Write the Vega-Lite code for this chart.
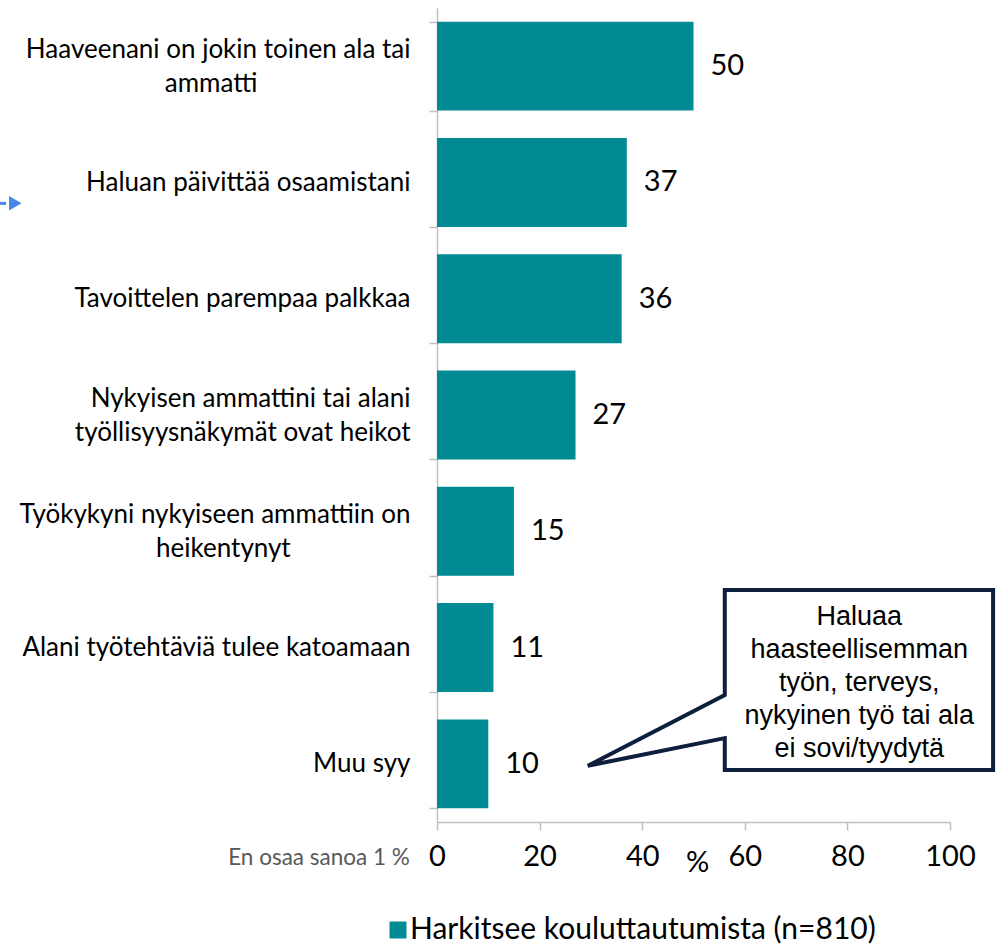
{
  "$schema": "https://vega.github.io/schema/vega-lite/v6.json",
  "width": 513,
  "height": 814,
  "autosize": "none",
  "padding": {"left": 437, "top": 8, "right": 50, "bottom": 122},
  "background": "white",
  "config": {"view": {"stroke": null}, "font": "Lato"},
  "layer": [
    {
      "data": {"values": [
        {"reason": "Haaveenani on jokin toinen ala tai|ammatti", "pct": 50, "series": "Harkitsee kouluttautumista (n=810)"},
        {"reason": "Haluan päivittää osaamistani", "pct": 37, "series": "Harkitsee kouluttautumista (n=810)"},
        {"reason": "Tavoittelen parempaa palkkaa", "pct": 36, "series": "Harkitsee kouluttautumista (n=810)"},
        {"reason": "Nykyisen ammattini tai alani|työllisyysnäkymät ovat heikot", "pct": 27, "series": "Harkitsee kouluttautumista (n=810)"},
        {"reason": "Työkykyni nykyiseen ammattiin on|heikentynyt", "pct": 15, "series": "Harkitsee kouluttautumista (n=810)"},
        {"reason": "Alani työtehtäviä tulee katoamaan", "pct": 11, "series": "Harkitsee kouluttautumista (n=810)"},
        {"reason": "Muu syy", "pct": 10, "series": "Harkitsee kouluttautumista (n=810)"}
      ]},
      "mark": {"type": "bar"},
      "encoding": {
        "y": {
          "field": "reason", "type": "nominal", "sort": null,
          "scale": {"paddingInner": 0.235, "paddingOuter": 0.1175},
          "axis": {
            "title": null,
            "labelExpr": "isString(datum.value) ? (length(split(datum.value, '|')) > 1 && length(split(datum.value, '|')[1]) < length(split(datum.value, '|')[0]) - 5 ? [split(datum.value, '|')[0], pad(split(datum.value, '|')[1], length(split(datum.value, '|')[1]) + round((length(split(datum.value, '|')[0]) - length(split(datum.value, '|')[1])) * 0.85), '\u00a0') + '\u200b'] : split(datum.value, '|')) : ''",
            "labelFont": "Lato", "labelFontSize": 26, "labelColor": "#000000",
            "labelLineHeight": 34, "labelLimit": 0,
            "labelBaseline": "middle", "labelPadding": 19,
            "labelOffset": {"condition": {"test": "isString(datum.value) && indexof(datum.value, '|') >= 0", "value": -17}, "value": 0},
            "tickSize": 8, "tickBand": "extent",
            "domainColor": "#bfbfbf", "tickColor": "#bfbfbf", "domainWidth": 1.5, "tickWidth": 1.5
          }
        },
        "x": {
          "field": "pct", "type": "quantitative",
          "scale": {"domain": [0, 100], "nice": false},
          "axis": {
            "values": [0, 20, 40, 60, 80, 100],
            "title": "%", "titleFont": "Lato", "titleFontSize": 29, "titleFontWeight": "normal",
            "titleColor": "#000000", "titleX": 260, "titleY": 49, "titleBaseline": "alphabetic", "titleAlign": "center",
            "labelFont": "Lato", "labelFontSize": 29, "labelColor": "#000000", "labelPadding": 12, "labelFlush": false,
            "tickSize": 8, "grid": false,
            "domainColor": "#bfbfbf", "tickColor": "#bfbfbf", "domainWidth": 1.5, "tickWidth": 1.5
          }
        },
        "color": {
          "field": "series", "type": "nominal",
          "scale": {"range": ["#008B94"]},
          "legend": {
            "title": null, "orient": "none", "legendX": -54, "legendY": 907,
            "symbolType": "square", "symbolSize": 289, "symbolStrokeWidth": 0,
            "labelFont": "Lato", "labelFontSize": 30, "labelColor": "#000000", "labelOffset": -3,
            "labelLimit": 0, "padding": 0
          }
        }
      }
    },
    {
      "data": {"values": [
        {"reason2": "Haaveenani on jokin toinen ala tai|ammatti", "pct2": 50},
        {"reason2": "Haluan päivittää osaamistani", "pct2": 37},
        {"reason2": "Tavoittelen parempaa palkkaa", "pct2": 36},
        {"reason2": "Nykyisen ammattini tai alani|työllisyysnäkymät ovat heikot", "pct2": 27},
        {"reason2": "Työkykyni nykyiseen ammattiin on|heikentynyt", "pct2": 15},
        {"reason2": "Alani työtehtäviä tulee katoamaan", "pct2": 11},
        {"reason2": "Muu syy", "pct2": 10}
      ]},
      "mark": {"type": "text", "align": "left", "baseline": "middle", "dx": 17, "font": "Lato", "fontSize": 29, "color": "#000000"},
      "encoding": {
        "y": {"field": "reason2", "type": "nominal", "sort": null, "scale": {"paddingInner": 0.235, "paddingOuter": 0.1175}, "axis": null},
        "x": {"field": "pct2", "type": "quantitative", "scale": {"domain": [0, 100], "nice": false}},
        "text": {"field": "pct2", "type": "quantitative"}
      }
    },
    {
      "data": {"values": [
        {"px": 56.1, "py": 28.5, "o": 1},
        {"px": 108.4, "py": 28.5, "o": 2},
        {"px": 108.4, "py": 6.4, "o": 3},
        {"px": 56.1, "py": 6.4, "o": 4},
        {"px": 56.1, "py": 10.3, "o": 5},
        {"px": 29.4, "py": 6.9, "o": 6},
        {"px": 56.1, "py": 15.6, "o": 7}
      ]},
      "mark": {"type": "line", "interpolate": "linear-closed", "stroke": "#0E1F3D", "strokeWidth": 4, "strokeJoin": "miter"},
      "encoding": {
        "x": {"field": "px", "type": "quantitative", "scale": {"domain": [0, 100], "nice": false}},
        "y": {"field": "py", "type": "quantitative", "scale": {"domain": [0, 100], "nice": false, "zero": false}, "axis": null},
        "order": {"field": "o", "type": "quantitative"}
      }
    },
    {
      "data": {"values": [
        {"px": 82.3, "py": 25.2, "label": "Haluaa\nhaasteellisemman\ntyön, terveys,\nnykyinen työ tai ala\nei sovi/tyydytä"}
      ]},
      "mark": {"type": "text", "align": "center", "baseline": "middle", "font": "Liberation Sans", "fontSize": 27, "lineHeight": 33, "lineBreak": "\n", "color": "#000000"},
      "encoding": {
        "x": {"field": "px", "type": "quantitative", "scale": {"domain": [0, 100], "nice": false}},
        "y": {"field": "py", "type": "quantitative", "scale": {"domain": [0, 100], "nice": false, "zero": false}, "axis": null},
        "text": {"field": "label", "type": "nominal"}
      }
    },
    {
      "data": {"values": [
        {"px": -5.3, "py": -4.4, "label": "En osaa sanoa 1 %"}
      ]},
      "mark": {"type": "text", "align": "right", "baseline": "middle", "font": "Lato", "fontSize": 22.5, "color": "#595959"},
      "encoding": {
        "x": {"field": "px", "type": "quantitative", "scale": {"domain": [0, 100], "nice": false}},
        "y": {"field": "py", "type": "quantitative", "scale": {"domain": [0, 100], "nice": false, "zero": false}, "axis": null},
        "text": {"field": "label", "type": "nominal"}
      }
    },
    {
      "data": {"values": [
        {"px": -85.2, "px2": -84.0, "py": 76.0}
      ]},
      "mark": {"type": "rule", "color": "#4A86E8", "strokeWidth": 3},
      "encoding": {
        "x": {"field": "px", "type": "quantitative", "scale": {"domain": [0, 100], "nice": false}},
        "x2": {"field": "px2"},
        "y": {"field": "py", "type": "quantitative", "scale": {"domain": [0, 100], "nice": false, "zero": false}, "axis": null}
      }
    },
    {
      "data": {"values": [
        {"px": -82.2, "py": 76.0}
      ]},
      "mark": {"type": "point", "shape": "triangle-right", "filled": true, "size": 210, "color": "#4A86E8", "opacity": 1},
      "encoding": {
        "x": {"field": "px", "type": "quantitative", "scale": {"domain": [0, 100], "nice": false}},
        "y": {"field": "py", "type": "quantitative", "scale": {"domain": [0, 100], "nice": false, "zero": false}, "axis": null}
      }
    }
  ],
  "resolve": {"scale": {"y": "independent"}}
}
